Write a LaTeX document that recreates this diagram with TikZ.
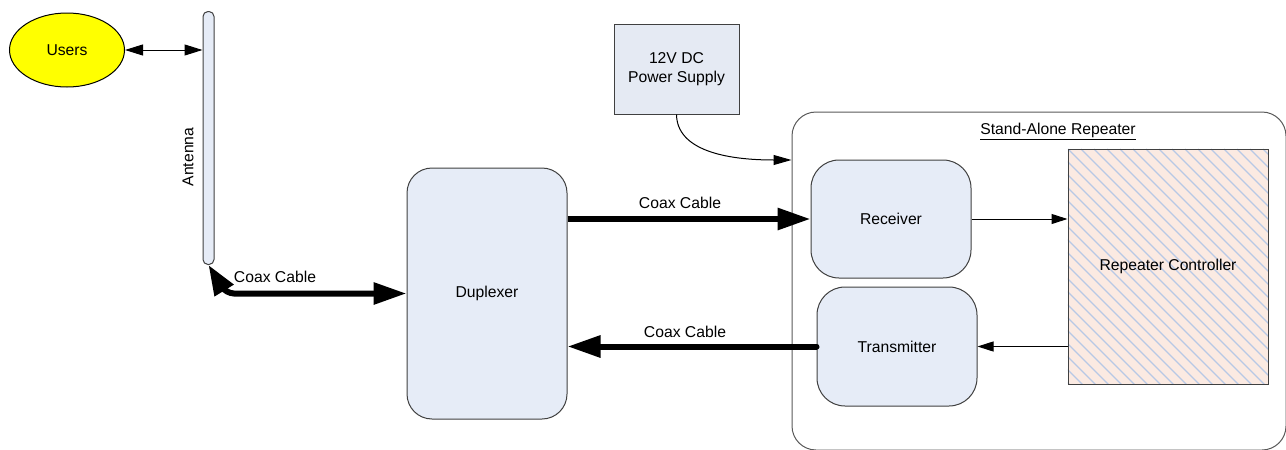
\documentclass[tikz,border=0pt]{standalone}
\usepackage{fontspec}
\setmainfont{Liberation Sans}
\usetikzlibrary{arrows.meta,shapes.geometric}
\definecolor{boxfill}{HTML}{E6ECF7}
\definecolor{psfill}{HTML}{E5EAF3}
\definecolor{boxline}{HTML}{404040}
\definecolor{ctrlfill}{HTML}{FBEAE2}
\definecolor{hatchcol}{HTML}{B7C8E6}
\definecolor{userfill}{HTML}{FFFF00}
\tikzset{
  rbox/.style={draw=boxline, fill=boxfill, line width=1pt, rounded corners=25pt, inner sep=0pt, align=center},
  thinarrow/.style={line width=1pt, -{Triangle[length=16pt,width=10pt]}},
  coax/.style={line width=6pt, -{Triangle[length=33pt,width=21pt]}},
  lbl/.style={inner sep=0pt}
}
\begin{document}
\begin{tikzpicture}[x=1pt,y=-1pt,font=\fontsize{15.7}{18.5}\selectfont]
\useasboundingbox (0,0) rectangle (1286,450);

% Stand-alone repeater container
\node[draw=black!65, line width=1pt, rounded corners=24pt, minimum width=494pt, minimum height=338pt, inner sep=0pt] (rep) at (1039,281) {};
\node[lbl] (replbl) at (1058,131) {\underline{Stand-Alone Repeater}};

% Users and antenna
\node[draw=black, fill=userfill, line width=1pt, ellipse, minimum width=115pt, minimum height=74pt, inner sep=0pt] (users) at (67,50) {Users};
\node[draw=boxline, fill=boxfill, line width=1pt, rounded corners=5pt, minimum width=11pt, minimum height=253pt, inner sep=0pt] (ant) at (208.5,138) {};
\node[lbl, rotate=90] (antlbl) at (188,157) {Antenna};

% Duplexer
\node[rbox, minimum width=160pt, minimum height=251pt] (dup) at (487,293.5) {Duplexer};

% Power supply
\node[draw=boxline, fill=psfill, line width=1pt, minimum width=125pt, minimum height=90pt, inner sep=0pt, align=center] (ps) at (676.5,69) {12V DC\\Power Supply};
\coordinate (psin) at (rep.west |- 0,160);

% Receiver / Transmitter
\node[rbox, rounded corners=28pt, minimum width=160pt, minimum height=118pt] (rx) at (891,219) {Receiver};
\node[rbox, rounded corners=28pt, minimum width=160pt, minimum height=119pt] (tx) at (897,346.5) {Transmitter};

% Repeater controller with hatching
\node[minimum width=200pt, minimum height=235pt, inner sep=0pt, fill=ctrlfill] (ctrl) at (1168,266.5) {};
\begin{scope}
  \clip (ctrl.north west) rectangle (ctrl.south east);
  \foreach \i in {-247,-234,...,200} {
    \draw[hatchcol, line width=1.3pt] (1068+\i,149) -- ++(245,245);
  }
\end{scope}
\node[draw=boxline, line width=1pt, minimum width=200pt, minimum height=235pt, inner sep=0pt] (ctrlb) at (ctrl) {Repeater Controller};

% Connectors
\draw[line width=1pt, {Triangle[length=18pt,width=11pt]}-{Triangle[length=18pt,width=11pt]}] (users.east) -- (ant.west |- users.east);
\draw[coax, {Triangle[length=30pt,width=21pt]}-{Triangle[length=33pt,width=21pt]}, rounded corners=8pt] (ant.south) -- (226,293.5) -- (dup.west);
\node[lbl] (c1) at (275,277) {Coax Cable};
\draw[coax] (dup.east |- rx.west) -- (rx.west);
\node[lbl] (c2) at (680,203) {Coax Cable};
\draw[coax, line cap=round] (tx.west) -- (dup.east |- tx.west);
\node[lbl] (c3) at (685,332) {Coax Cable};
\draw[line width=1pt, -{Triangle[length=18pt,width=10pt]}] (ps.south) .. controls (677,150) and (725,160) .. (psin);
\draw[thinarrow] (rx.east) -- (ctrlb.west |- rx.east);
\draw[thinarrow] (ctrlb.west |- tx.east) -- (tx.east);
\end{tikzpicture}
\end{document}
